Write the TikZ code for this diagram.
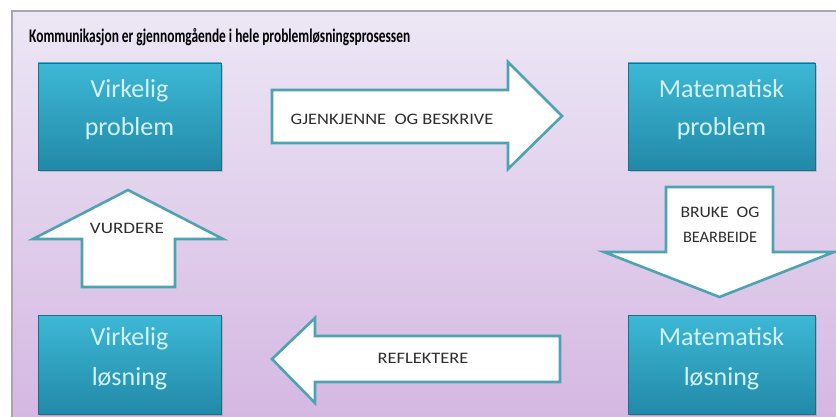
\documentclass[tikz,border=0pt]{standalone}
\usepackage{fontspec}
\setmainfont{Carlito}
\usetikzlibrary{shadows}
\definecolor{bgtop}{HTML}{ECE7F5}
\definecolor{bgbot}{HTML}{D5B7E2}
\definecolor{boxtop}{HTML}{3DB8D6}
\definecolor{boxbot}{HTML}{2289A8}
\definecolor{boxtext}{HTML}{D2F1F5}
\definecolor{arrline}{HTML}{4FA2B0}
\definecolor{arrtext}{HTML}{2E2E2E}
\definecolor{framecol}{HTML}{A8A6AE}
\tikzset{
  probbox/.style={minimum width=#1, minimum height=107pt, inner sep=0pt,
    top color=boxtop, bottom color=boxbot, draw=boxbot!80!black, line width=0.6pt,
    drop shadow={shadow xshift=1.5pt, shadow yshift=-2pt, opacity=0.35}},
  boxlabel/.style={text=boxtext, align=center, inner sep=0pt,
    font=\fontsize{26}{#1}\selectfont},
  bigarrow/.style={draw=arrline, fill=white, line width=2.6pt, line join=miter},
  arrlabel/.style={text=arrtext, font=\fontsize{16}{18}\selectfont, inner sep=0pt, align=center}
}
\newcommand{\wide}[1]{\scalebox{1.15}[1]{#1}}
\begin{document}
\begin{tikzpicture}[x=1pt,y=1pt]
\useasboundingbox (0,0) rectangle (836,416);
\begin{scope}
\clip (0,0) rectangle (836,416);
\fill[white] (0,0) rectangle (836,416);
\shade[top color=bgtop, bottom color=bgbot, draw=framecol, line width=1.6pt] (12,-6) rectangle (842,405);
% arrows
\draw[bigarrow] (272,326) -- (508,326) -- (508,354) -- (562,300) -- (508,247) -- (508,273) -- (272,273) -- cycle;
\draw[bigarrow] (666,229) -- (773,229) -- (773,164) -- (834,164) -- (719.5,119) -- (604,164) -- (666,164) -- cycle;
\draw[bigarrow] (82,129) -- (175,129) -- (175,177) -- (223,177) -- (128,226) -- (33,177) -- (82,177) -- cycle;
\draw[bigarrow] (560,80) -- (315,80) -- (315,98) -- (272,57) -- (315,13) -- (315,34) -- (560,34) -- cycle;
\end{scope}
\node[anchor=base west, inner sep=0pt] (title) at (29,373) {\resizebox{381pt}{14pt}{\fontsize{18}{21}\selectfont\bfseries Kommunikasjon er gjennomgående i hele problemløsningsprosessen}};
\node[probbox=183pt] (vp) at (129.5,299.5) {};
\node[probbox=187pt] (mp) at (721.5,299.5) {};
\node[probbox=183pt, minimum height=99pt] (vl) at (129.5,51.5) {};
\node[probbox=187pt, minimum height=99pt] (ml) at (721.5,51.5) {};
\node[boxlabel=38pt] (vpt) at (129.5,306) {Virkelig\\problem};
\node[boxlabel=38pt] (mpt) at (721.5,306) {Matematisk\\problem};
\node[boxlabel=40pt] (vlt) at (129.5,57) {Virkelig\\løsning};
\node[boxlabel=40pt] (mlt) at (721.5,57) {Matematisk\\løsning};
\node[arrlabel] (gb) at (392,297) {\wide{GJENKJENNE\ \ OG BESKRIVE}};
\node[arrlabel] (bb) at (720,191) {\scalebox{1.1}[1]{BRUKE\ \ OG}\\[7pt]\scalebox{1.02}[1]{BEARBEIDE}};
\node[arrlabel] (vu) at (127,188) {\scalebox{1.19}[1]{VURDERE}};
\node[arrlabel] (re) at (423,58) {\wide{REFLEKTERE}};
\end{tikzpicture}
\end{document}
